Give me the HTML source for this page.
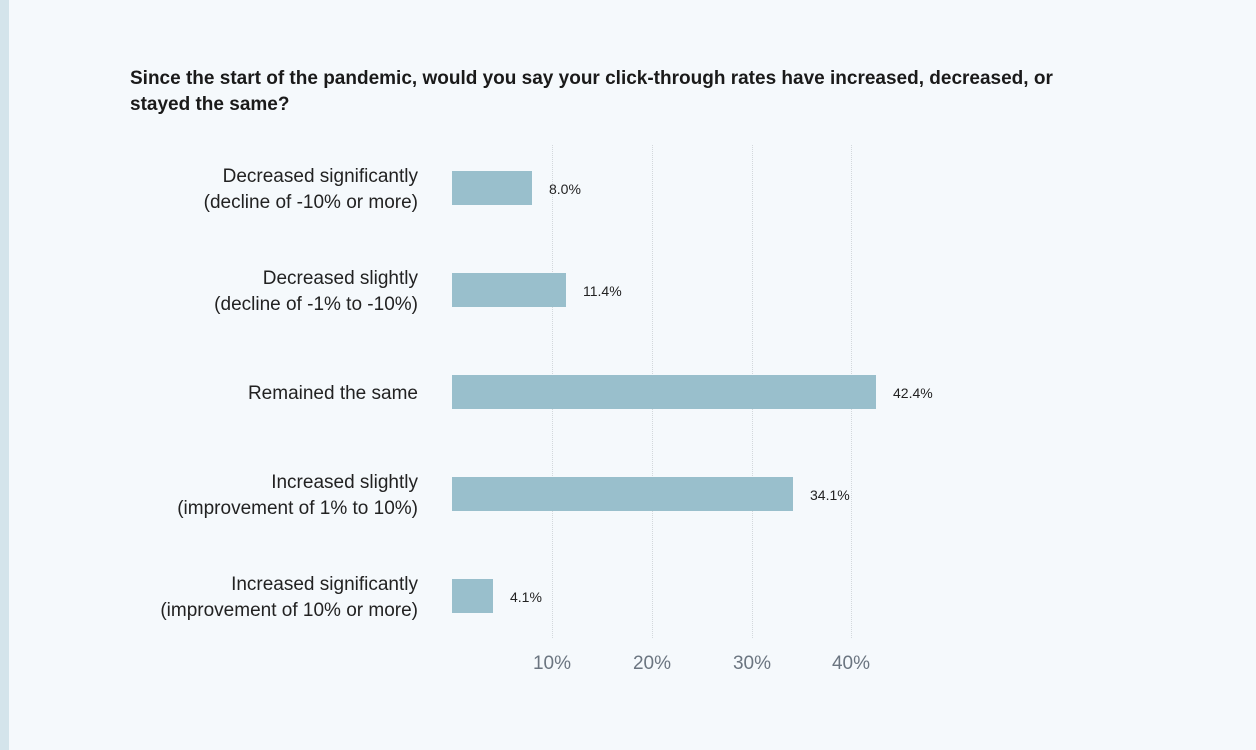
<!DOCTYPE html>
<html><head><style>
body{margin:0;width:1256px;height:750px;background:#f5f9fc;font-family:"Liberation Sans",sans-serif;position:relative;overflow:hidden}
.strip{position:absolute;left:0;top:0;width:9px;height:750px;background:#d4e4eb}
.t{position:absolute;left:130px;top:66px;font-size:19px;font-weight:bold;color:#1a1a1a;line-height:26px;width:960px}
.lab{position:absolute;right:838px;text-align:right;font-size:19px;color:#222;line-height:26px;white-space:nowrap}
.bar{position:absolute;left:452px;height:34px;background:#99bfcc}
.v{position:absolute;font-size:14px;color:#222;line-height:16px}
.g{position:absolute;top:145px;height:493px;border-left:1px dotted #d3d8dc}
.tk{position:absolute;top:653px;font-size:19px;color:#6b7580;width:60px;text-align:center}
</style></head><body>
<div class="strip"></div>
<div class="t">Since the start of the pandemic, would you say your click-through rates have increased, decreased, or stayed the same?</div>
<div class="g" style="left:552px"></div><div class="g" style="left:652px"></div><div class="g" style="left:752px"></div><div class="g" style="left:851px"></div>
<div class="lab" style="top:164px">Decreased significantly<br>(decline of -10% or more)</div>
<div class="lab" style="top:266px">Decreased slightly<br>(decline of -1% to -10%)</div>
<div class="lab" style="top:381px">Remained the same</div>
<div class="lab" style="top:470px">Increased slightly<br>(improvement of 1% to 10%)</div>
<div class="lab" style="top:572px">Increased significantly<br>(improvement of 10% or more)</div>
<div class="bar" style="top:171px;width:80px"></div><div class="v" style="left:549px;top:181px">8.0%</div>
<div class="bar" style="top:273px;width:114px"></div><div class="v" style="left:583px;top:283px">11.4%</div>
<div class="bar" style="top:375px;width:424px"></div><div class="v" style="left:893px;top:385px">42.4%</div>
<div class="bar" style="top:477px;width:341px"></div><div class="v" style="left:810px;top:487px">34.1%</div>
<div class="bar" style="top:579px;width:41px"></div><div class="v" style="left:510px;top:589px">4.1%</div>
<div class="tk" style="left:522px">10%</div><div class="tk" style="left:622px">20%</div><div class="tk" style="left:722px">30%</div><div class="tk" style="left:821px">40%</div>
</body></html>
